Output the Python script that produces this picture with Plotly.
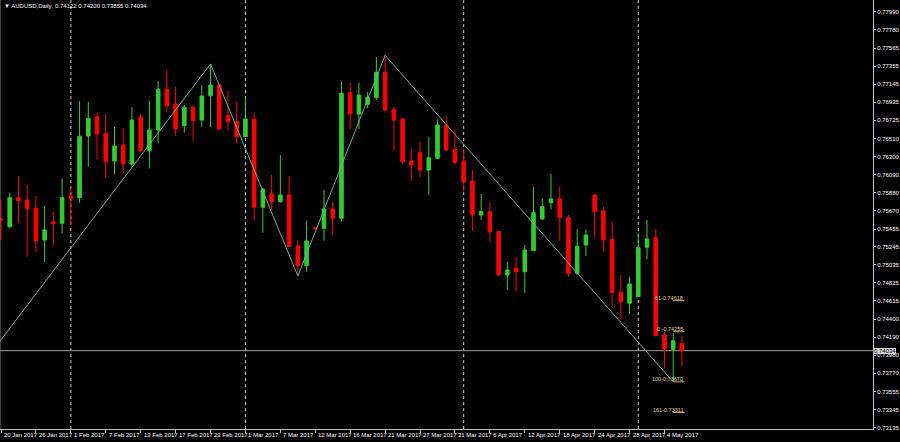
import plotly.graph_objects as go

# ---------------- data ----------------
date_labels = ["20 Jan 2017", "26 Jan 2017", "1 Feb 2017", "7 Feb 2017", "13 Feb 2017",
               "17 Feb 2017", "23 Feb 2017", "1 Mar 2017", "7 Mar 2017", "12 Mar 2017",
               "16 Mar 2017", "21 Mar 2017", "27 Mar 2017", "31 Mar 2017", "6 Apr 2017",
               "12 Apr 2017", "18 Apr 2017", "24 Apr 2017", "28 Apr 2017", "4 May 2017"]
label_step = 4

opens = [0.75572, 0.75482, 0.75821, 0.75794, 0.75697, 0.75327, 0.75537, 0.75522, 0.75833, 0.75821,
         0.76542, 0.76767, 0.76573, 0.76250, 0.76436, 0.76214, 0.76760, 0.76370, 0.76612, 0.77087,
         0.76915, 0.76662, 0.76877, 0.76728, 0.77012, 0.77137, 0.76779, 0.76709, 0.76533, 0.76740,
         0.75709, 0.75864, 0.75774, 0.75852, 0.75257, 0.75027, 0.75471, 0.75463, 0.75689, 0.75580,
         0.77047, 0.76798, 0.76912, 0.76989, 0.77286, 0.76853, 0.76740, 0.76250, 0.76347, 0.76144,
         0.76281, 0.76670, 0.76386, 0.76246, 0.76016, 0.75619, 0.75657, 0.75424, 0.74918, 0.74996,
         0.74957, 0.75202, 0.75572, 0.75762, 0.75806, 0.75587, 0.74938, 0.75268, 0.75852, 0.75666,
         0.75335, 0.74716, 0.74588, 0.74665, 0.75242, 0.75354, 0.74217, 0.74050, 0.74122]
highs = [0.75794, 0.75879, 0.76074, 0.75969, 0.75841, 0.75724, 0.75657, 0.76047, 0.75958, 0.76950,
         0.76942, 0.76818, 0.76798, 0.76650, 0.76631, 0.76877, 0.76798, 0.76950, 0.77184, 0.77312,
         0.77117, 0.76904, 0.76904, 0.77137, 0.77383, 0.77157, 0.77071, 0.76935, 0.76994, 0.76814,
         0.75934, 0.76086, 0.76320, 0.76074, 0.75327, 0.75552, 0.75484, 0.75911, 0.75774, 0.77176,
         0.77164, 0.77164, 0.77059, 0.77461, 0.77484, 0.76884, 0.76745, 0.76398, 0.76475, 0.76533,
         0.76737, 0.76775, 0.76620, 0.76398, 0.76144, 0.75864, 0.75762, 0.75435, 0.75073, 0.75132,
         0.75268, 0.75942, 0.75814, 0.76098, 0.75949, 0.75619, 0.75452, 0.75452, 0.75864, 0.75716,
         0.75541, 0.74918, 0.74898, 0.75405, 0.75560, 0.75452, 0.74255, 0.74240, 0.74200]
lows = [0.75327, 0.75463, 0.75525, 0.75132, 0.75190, 0.75070, 0.75268, 0.75405, 0.75494, 0.75762,
        0.76183, 0.76273, 0.76047, 0.76098, 0.76106, 0.76183, 0.76358, 0.76164, 0.76456, 0.76825,
        0.76545, 0.76580, 0.76487, 0.76650, 0.76643, 0.76617, 0.76603, 0.76456, 0.76526, 0.75560,
        0.75412, 0.75677, 0.75765, 0.75242, 0.74906, 0.74957, 0.75444, 0.75319, 0.75385, 0.75541,
        0.76620, 0.76620, 0.76865, 0.76962, 0.76814, 0.76370, 0.76214, 0.76019, 0.76059, 0.75852,
        0.76279, 0.76372, 0.76203, 0.75891, 0.75435, 0.75560, 0.75307, 0.74914, 0.74743, 0.74723,
        0.74711, 0.75198, 0.75560, 0.75685, 0.75319, 0.74898, 0.74918, 0.75140, 0.75365, 0.75183,
        0.74536, 0.74401, 0.74463, 0.74661, 0.75101, 0.74206, 0.73828, 0.73670, 0.73855]
closes = [0.75560, 0.75821, 0.75786, 0.75689, 0.75315, 0.75444, 0.75517, 0.75821, 0.75814, 0.76538,
          0.76748, 0.76565, 0.76241, 0.76425, 0.76214, 0.76728, 0.76370, 0.76612, 0.77087, 0.76895,
          0.76623, 0.76877, 0.76720, 0.77009, 0.77137, 0.76623, 0.76709, 0.76533, 0.76740, 0.75709,
          0.75919, 0.75774, 0.75852, 0.75249, 0.75027, 0.75315, 0.75455, 0.75689, 0.75580, 0.77040,
          0.76798, 0.77020, 0.76994, 0.77286, 0.76845, 0.76728, 0.76241, 0.76203, 0.76144, 0.76288,
          0.76670, 0.76378, 0.76234, 0.76008, 0.75627, 0.75657, 0.75424, 0.74918, 0.74976, 0.74957,
          0.75210, 0.75646, 0.75716, 0.75806, 0.75587, 0.74938, 0.75253, 0.75385, 0.75657, 0.75327,
          0.74716, 0.74606, 0.74813, 0.75237, 0.75339, 0.74209, 0.74054, 0.74151, 0.74034]

# month separators (bar index of first bar of month)
separator_bars = [8, 28, 53, 73]

# zigzag pivots (bar index, price)
zigzag_bars = [-1, 24, 34, 44, 77]
zigzag_prices = [0.74026, 0.77383, 0.74906, 0.77484, 0.73670]

# fibonacci levels
fib_values = [0.74618, 0.74255, 0.73670, 0.73311]
fib_labels = ["61-0.74618", "0 -0.74255", "100-0.73670", "161-0.73311"]
fib_bar_start = 77
fib_bar_end = 78.3

y_ticks = [0.77990, 0.77780, 0.77565, 0.77355, 0.77145, 0.76935, 0.76725, 0.76510, 0.76300,
           0.76090, 0.75880, 0.75670, 0.75455, 0.75245, 0.75035, 0.74825, 0.74615, 0.74400,
           0.74190, 0.73980, 0.73770, 0.73555, 0.73345, 0.73135]

symbol_title = "AUDUSD,Daily"

# ---------------- figure ----------------
FONT = "Liberation Sans"
AX = "#c0c0c0"
bars = list(range(len(opens)))

fig = go.Figure()

fig.add_trace(go.Scatter(
    x=zigzag_bars, y=zigzag_prices, mode="lines",
    line=dict(color="#5fb0a4", width=1), hoverinfo="skip", showlegend=False))

fig.add_trace(go.Candlestick(
    x=bars, open=opens, high=highs, low=lows, close=closes,
    increasing=dict(line=dict(color="#32cd32", width=1), fillcolor="#32cd32"),
    decreasing=dict(line=dict(color="#ff0000", width=1), fillcolor="#ff0000"),
    whiskerwidth=0, hoverinfo="skip", showlegend=False))

fx, fy = [], []
for v in fib_values:
    fx += [fib_bar_start, fib_bar_end, None]
    fy += [v, v, None]
fig.add_trace(go.Scatter(x=fx, y=fy, mode="lines",
                         line=dict(color="#c8b450", width=1),
                         hoverinfo="skip", showlegend=False))

shapes = []
for b in separator_bars:
    shapes.append(dict(type="line", xref="x", yref="paper", x0=b, x1=b, y0=0, y1=1,
                       line=dict(color="#d0d0d0", width=1, dash="dot"), layer="below"))
shapes.append(dict(type="line", xref="paper", yref="y", x0=0, x1=1,
                   y0=closes[-1], y1=closes[-1],
                   line=dict(color="#a0a0a0", width=1), layer="below"))
shapes.append(dict(type="line", xref="paper", yref="paper", x0=0, x1=0, y0=0, y1=1,
                   line=dict(color="#808080", width=1)))

annotations = []
for i, lab in enumerate(date_labels):
    annotations.append(dict(x=i * label_step, y=0, xref="x", yref="paper",
                            text=lab, showarrow=False, xanchor="left", yanchor="top",
                            xshift=1, yshift=-1,
                            font=dict(family=FONT, size=6, color="white")))
for v, lab in zip(fib_values, fib_labels):
    annotations.append(dict(x=fib_bar_end, y=v, xref="x", yref="y", text=lab,
                            showarrow=False, xanchor="right", yanchor="bottom",
                            yshift=-2,
                            font=dict(family=FONT, size=5.5, color="#e6dc9a")))
annotations.append(dict(x=1, y=closes[-1], xref="paper", yref="y",
                        text=f"{closes[-1]:.5f}", showarrow=False, xanchor="left",
                        yanchor="middle", xshift=1, bgcolor="#d8d8d8",
                        bordercolor="white", borderwidth=0, borderpad=0,
                        font=dict(family=FONT, size=6, color="black")))
annotations.append(dict(
    x=0.002, y=1, xref="paper", yref="paper",
    text=f"\u25bc {symbol_title}  {opens[-1]:.5f} {highs[-1]:.5f} {lows[-1]:.5f} {closes[-1]:.5f}",
    showarrow=False, xanchor="left", yanchor="top", yshift=-1,
    font=dict(family=FONT, size=6, color="white")))

fig.update_layout(
    width=900, height=442,
    margin=dict(l=0, r=25, t=0, b=13),
    paper_bgcolor="black", plot_bgcolor="black",
    shapes=shapes, annotations=annotations,
    showlegend=False,
    boxgap=0.42,
    xaxis=dict(range=[-0.114, 99.886], rangeslider=dict(visible=False),
               tickvals=[i * label_step for i in range(len(date_labels))],
               ticktext=["" for _ in date_labels],
               ticks="outside", ticklen=3, tickcolor=AX,
               showline=True, linecolor=AX, linewidth=1,
               showgrid=False, zeroline=False, fixedrange=True),
    yaxis=dict(side="right", range=[0.73119, 0.78130],
               tickvals=y_ticks, ticktext=[f"{t:.5f}" for t in y_ticks],
               ticks="outside", ticklen=2, tickcolor=AX,
               showline=True, linecolor=AX, linewidth=1,
               showgrid=False, zeroline=False,
               tickfont=dict(family=FONT, size=6, color="white")),
)

fig.write_html("out.html",
               config={"displayModeBar": False},
               post_script="document.body.style.margin='0';document.body.style.background='black';")
